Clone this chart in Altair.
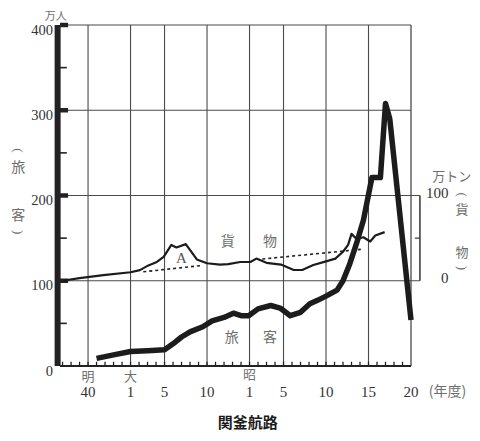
import altair as alt
import pandas as pd

# ---- data ----
pass_year = [1908, 1910, 1912, 1914, 1916, 1917, 1918, 1919, 1920.5, 1921.6, 1923, 1924.1, 1925, 1925.9,
             1927, 1928.5, 1929.6, 1930.8, 1932, 1933.1, 1934, 1935, 1936.3, 1937, 1937.8, 1938.6,
             1939.4, 1940.4, 1941.4, 1942, 1942.5, 1945]
pass_val = [9, 13, 17, 18, 19, 26, 34, 40, 46, 53, 57, 62, 59, 59,
            67, 71, 68, 59, 63, 73, 77, 82, 89, 100, 120, 144,
            171, 221, 221, 308, 290, 54]

fr_year = [1904, 1906, 1908.8, 1912, 1913.1, 1914.1, 1915.1, 1915.9, 1916.8, 1917.4, 1918.5, 1919.8,
           1921, 1922.5, 1923.5, 1924.9, 1926.1, 1926.8, 1928, 1929.7, 1931.2, 1932.2, 1933.5,
           1934.9, 1936.1, 1937, 1937.6, 1938, 1938.6, 1939.4, 1940.2, 1940.8, 1941.9]
fr_val = [0, 3, 6.5, 10, 12.5, 18, 22, 28, 42, 39, 43, 25,
          20.5, 19, 19.5, 22, 22, 26, 21, 19, 12.6, 12.6, 18.5,
          22.4, 26, 34, 42, 55, 49, 51, 46, 53, 57]

dot_year = [1913.5, 1920.5, 1927.5, 1939.3]
dot_val = [10.5, 18, 25.5, 37]
dot_seg = ["a", "a", "b", "b"]

grid_years = [1907, 1912, 1916, 1921, 1926, 1930, 1935, 1940]
tick_years = list(range(1904, 1945))
era_text = ["明", "大", "昭"]
era_year = [1907, 1912, 1926]
num_text = ["40", "1", "5", "10", "1", "5", "10", "15", "20"]
num_year = [1907, 1912, 1916, 1921, 1926, 1930, 1935, 1940, 1945]
y_labels = [0, 100, 200, 300, 400]
r_labels = [0, 100]

X0, X1, XB = 1903.7, 1945.0, 1946.05
xs = alt.Scale(domain=[X0, X1], nice=False, zero=False)
ys = alt.Scale(domain=[0, 400], nice=False, zero=False)
fs = alt.Scale(domain=[-100, 300], nice=False, zero=False)

GRID = "#4a4a4a"
NUMC = "#333333"
JPC = "#6e6e6e"
SERIF = "Liberation Serif"
CJK = "Noto Sans CJK JP"


def X(f="x"):
    return alt.X(f"{f}:Q", scale=xs, axis=None)


def Y(f="y", s=ys):
    return alt.Y(f"{f}:Q", scale=s, axis=None)


def txt(df, s=ys, **kw):
    return alt.Chart(df).mark_text(**kw).encode(x=X(), y=Y(s=s), text="t:N")


# ---- main (passenger) scale ----
vgrid = alt.Chart(pd.DataFrame({"x": grid_years, "y": 0, "y2": 400})).mark_rule(
    color=GRID, strokeWidth=1.1).encode(x=X(), y=Y(), y2="y2:Q")

hlines = alt.Chart(pd.DataFrame({"x": [X0] * 5, "x2": [X1, XB, XB, X1, X1],
                                 "y": [0, 100, 200, 300, 400]})).mark_rule(
    color=GRID, strokeWidth=1.2).encode(x=X(), x2="x2:Q", y=Y())

rframe = alt.Chart(pd.DataFrame({"x": [X1], "y": [0], "y2": [400]})).mark_rule(
    color=GRID, strokeWidth=1.3).encode(x=X(), y=Y(), y2="y2:Q")

bottom = alt.Chart(pd.DataFrame({"x": [X0], "x2": [X1], "y": [0]})).mark_rule(
    color="#222", strokeWidth=2).encode(x=X(), x2="x2:Q", y=Y())

lbar = alt.Chart(pd.DataFrame({"x": [X0 - 0.28], "y": [0], "y2": [400]})).mark_rule(
    color="#222", strokeWidth=6).encode(x=X(), y=Y(), y2="y2:Q")

majt = alt.Chart(pd.DataFrame({"x": X0, "x2": X0 + 0.95, "y": [100, 200, 300, 400]})).mark_rule(
    color="#222", strokeWidth=4.5).encode(x=X(), x2="x2:Q", y=Y())
mint = alt.Chart(pd.DataFrame({"x": X0, "x2": X0 + 0.8, "y": [50, 150, 250, 350]})).mark_rule(
    color="#222", strokeWidth=1.6).encode(x=X(), x2="x2:Q", y=Y())

xticks = alt.Chart(pd.DataFrame({"x": tick_years, "y": 0, "y2": 5})).mark_rule(
    color="#222", strokeWidth=1.3).encode(x=X(), y=Y(), y2="y2:Q")

pline = alt.Chart(pd.DataFrame({"x": pass_year, "y": pass_val})).mark_line(
    color="#1c1c1c", strokeWidth=5.5, strokeJoin="round", strokeCap="butt").encode(
    x=X(), y=Y(), order="x:Q")

ylab = txt(pd.DataFrame({"x": X0, "y": y_labels, "t": [str(v) for v in y_labels]}),
           font=SERIF, fontSize=14.5, color=NUMC, align="right", baseline="middle", dx=-7, dy=5.5)

numlab = txt(pd.DataFrame({"x": num_year, "y": -30.5, "t": num_text}),
             font=SERIF, fontSize=15, color=NUMC, align="center", baseline="middle")

eralab = txt(pd.DataFrame({"x": era_year, "y": [-13, -13, -11], "t": era_text}),
             font=CJK, fontSize=13, color=JPC, align="center", baseline="middle")

jp_t = ["(年度)", "旅", "客", "貨", "物", "旅", "客"]
jp_x = [1949.3, 1898.8, 1898.8, 1923.45, 1928.4, 1923.9, 1928.4]
jp_y = [-30.5, 232, 176, 145.5, 145.5, 33, 33]
jplab = txt(pd.DataFrame({"x": jp_x, "y": jp_y, "t": jp_t}),
            font=CJK, fontSize=14, color=JPC, align="center", baseline="middle")

unit_l = txt(pd.DataFrame({"x": [1903.2], "y": [409.3], "t": ["万人"]}),
             font=CJK, fontSize=11, color=JPC, align="center", baseline="middle")

lp_t = ["(", ")"]
lp_x = [1898.8, 1898.8]
lp_y = [253, 157]
lparen = txt(pd.DataFrame({"x": lp_x, "y": lp_y, "t": lp_t}),
             font=SERIF, fontSize=13, color=JPC, align="center", baseline="middle", angle=90)

alab = txt(pd.DataFrame({"x": [1918.0], "y": [126.5], "t": ["A"]}),
           font=SERIF, fontSize=15, color="#555", align="center", baseline="middle")

title = txt(pd.DataFrame({"x": [1925.8], "y": [-67], "t": ["関釜航路"]}),
            font=CJK, fontSize=15, fontWeight="bold", color="#1a1a1a", align="center", baseline="middle")

main = alt.layer(vgrid, hlines, rframe, bottom, xticks, lbar, majt, mint, pline,
                 ylab, numlab, eralab, jplab, unit_l, lparen, alab, title)

# ---- freight scale (万トン) ----
fline = alt.Chart(pd.DataFrame({"x": fr_year, "y": fr_val})).mark_line(
    color="#1c1c1c", strokeWidth=2.2, strokeJoin="round").encode(
    x=X(), y=Y(s=fs), order="x:Q")

dline = alt.Chart(pd.DataFrame({"x": dot_year, "y": dot_val, "s": dot_seg})).mark_line(
    color="#222", strokeWidth=1.6, strokeDash=[3, 3]).encode(
    x=X(), y=Y(s=fs), detail="s:N", order="x:Q")

rbox = alt.Chart(pd.DataFrame({"x": [XB], "y": [0], "y2": [100]})).mark_rule(
    color="#333", strokeWidth=1.5).encode(x=X(), y=Y(s=fs), y2="y2:Q")
rtick = alt.Chart(pd.DataFrame({"x": [XB - 0.6], "x2": [XB], "y": [50]})).mark_rule(
    color="#333", strokeWidth=1.2).encode(x=X(), x2="x2:Q", y=Y(s=fs))

rlab = txt(pd.DataFrame({"x": 1949.4, "y": r_labels, "t": [str(v) for v in r_labels]}), s=fs,
           font=SERIF, fontSize=15, color=NUMC, align="right", baseline="middle", dy=-3)

rj_t = ["万トン", "貨", "物"]
rj_x = [1949.8, 1951.0, 1951.0]
rj_y = [121.5, 83, 33]
rjlab = txt(pd.DataFrame({"x": rj_x, "y": rj_y, "t": rj_t}), s=fs,
            font=CJK, fontSize=13, color=JPC, align="center", baseline="middle")

rp_t = ["(", ")"]
rp_x = [1951.0, 1951.0]
rp_y = [101, 15]
rparen = txt(pd.DataFrame({"x": rp_x, "y": rp_y, "t": rp_t}), s=fs,
             font=SERIF, fontSize=13, color=JPC, align="center", baseline="middle", angle=90)

freight = alt.layer(fline, dline, rbox, rtick, rlab, rjlab, rparen)

chart = alt.layer(main, freight).resolve_scale(y="independent").properties(
    width=351, height=341,
    padding={"left": 52, "top": 17, "right": 61, "bottom": 66},
    autosize=alt.AutoSizeParams(type="none"),
).configure_view(stroke=None)

chart.save("out.html", embed_options={"renderer": "svg", "actions": False})
